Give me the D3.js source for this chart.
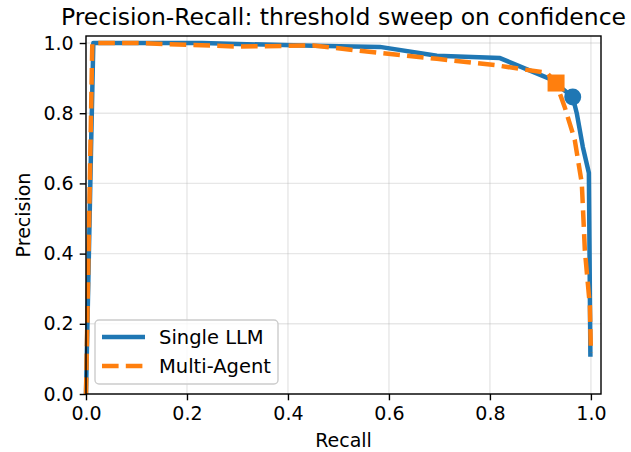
<!DOCTYPE html>
<html lang="en">
<head>
    <meta charset="UTF-8">
    <title>Precision-Recall</title>
    <script src="https://cdn.jsdelivr.net/npm/d3@7"></script>
    <style>
        body { margin: 0; background: #fff; }
        svg { display: block; font-family: "DejaVu Sans", sans-serif; }
    </style>
</head>
<body>
    <script>
        const width = 631;
        const height = 452;

        const marginTop = 36;
        const marginRight = 30;
        const marginBottom = 58;
        const marginLeft = 86;

        // values
        const singleRecall    = [0, 0.010, 0.0145, 0.23, 0.45, 0.582, 0.695, 0.82, 0.92, 0.964, 0.972, 0.984, 0.996, 0.999];
        const singlePrecision = [0, 0.700, 1.000, 1.000, 0.992, 0.989, 0.964, 0.957, 0.897, 0.846, 0.800, 0.704, 0.630, 0.106];

        const multiRecall    = [0, 0.0125, 0.10, 0.30, 0.45, 0.58, 0.695, 0.81, 0.913, 0.931, 0.948, 0.968, 0.982, 0.988, 0.998, 1.0];
        const multiPrecision = [0, 1.000, 1.000, 0.990, 0.993, 0.972, 0.955, 0.937, 0.915, 0.886, 0.818, 0.724, 0.600, 0.410, 0.250, 0.117];

        const opPoints = [
            { name: "Single LLM", recall: 0.964, precision: 0.846 },
            { name: "Multi-Agent", recall: 0.931, precision: 0.886 }
        ];

        const ticks = [0, 0.2, 0.4, 0.6, 0.8, 1.0];
        const blue = "#1f77b4";
        const orange = "#ff7f0e";

        const x = d3.scaleLinear()
            .domain([0, 1.02])
            .range([marginLeft, width - marginRight]);

        const y = d3.scaleLinear()
            .domain([0, 1.02])
            .range([height - marginBottom, marginTop]);

        const svg = d3.select("body").append("svg")
            .attr("width", width)
            .attr("height", height)
            .attr("viewBox", [0, 0, width, height]);

        // grid
        svg.append("g")
            .selectAll("line.gx")
            .data(ticks)
            .join("line")
            .attr("x1", d => x(d)).attr("x2", d => x(d))
            .attr("y1", marginTop).attr("y2", height - marginBottom)
            .attr("stroke", "#b0b0b0").attr("stroke-opacity", 0.3).attr("stroke-width", 1.4);

        svg.append("g")
            .selectAll("line.gy")
            .data(ticks)
            .join("line")
            .attr("y1", d => y(d)).attr("y2", d => y(d))
            .attr("x1", marginLeft).attr("x2", width - marginRight)
            .attr("stroke", "#b0b0b0").attr("stroke-opacity", 0.3).attr("stroke-width", 1.4);

        const line = d3.line()
            .x(d => x(d[0]))
            .y(d => y(d[1]));

        const singleData = singleRecall.map((r, i) => [r, singlePrecision[i]]);
        const multiData = multiRecall.map((r, i) => [r, multiPrecision[i]]);

        svg.append("path")
            .datum(singleData)
            .attr("fill", "none")
            .attr("stroke", blue)
            .attr("stroke-width", 4.5)
            .attr("stroke-linejoin", "round")
            .attr("d", line);

        svg.append("path")
            .datum(multiData)
            .attr("fill", "none")
            .attr("stroke", orange)
            .attr("stroke-width", 4.5)
            .attr("stroke-dasharray", "16.6,7.2")
            .attr("d", line);

        // operating points
        svg.append("circle")
            .attr("cx", x(opPoints[0].recall))
            .attr("cy", y(opPoints[0].precision))
            .attr("r", 8.5)
            .attr("fill", blue);

        svg.append("rect")
            .attr("x", x(opPoints[1].recall) - 8.5)
            .attr("y", y(opPoints[1].precision) - 8.5)
            .attr("width", 17)
            .attr("height", 17)
            .attr("fill", orange);

        // axes
        const xAxis = svg.append("g")
            .attr("transform", `translate(0, ${height - marginBottom})`)
            .call(d3.axisBottom(x).tickValues(ticks).tickFormat(d3.format(".1f")).tickSize(6.3).tickPadding(6));

        const yAxis = svg.append("g")
            .attr("transform", `translate(${marginLeft}, 0)`)
            .call(d3.axisLeft(y).tickValues(ticks).tickFormat(d3.format(".1f")).tickSize(6.3).tickPadding(6));

        [xAxis, yAxis].forEach(g => {
            g.select(".domain").remove();
            g.selectAll(".tick line").attr("stroke", "#000").attr("stroke-width", 1.4);
            g.selectAll(".tick text").attr("fill", "#000").style("font-size", "19px")
                .style("font-family", "DejaVu Sans, sans-serif");
        });

        // frame
        svg.append("rect")
            .attr("x", marginLeft)
            .attr("y", marginTop)
            .attr("width", width - marginRight - marginLeft)
            .attr("height", height - marginBottom - marginTop)
            .attr("fill", "none")
            .attr("stroke", "#000")
            .attr("stroke-width", 1.4);

        // labels
        svg.append("text")
            .attr("x", (marginLeft + width - marginRight) / 2)
            .attr("y", 25)
            .attr("text-anchor", "middle")
            .style("font-size", "23.5px")
            .text("Precision-Recall: threshold sweep on confidence");

        svg.append("text")
            .attr("x", (marginLeft + width - marginRight) / 2)
            .attr("y", 447)
            .attr("text-anchor", "middle")
            .style("font-size", "19px")
            .text("Recall");

        svg.append("text")
            .attr("transform", `translate(30, ${(marginTop + height - marginBottom) / 2}) rotate(-90)`)
            .attr("text-anchor", "middle")
            .style("font-size", "19px")
            .text("Precision");

        // legend
        const legend = svg.append("g");
        legend.append("rect")
            .attr("x", 95).attr("y", 320)
            .attr("width", 183).attr("height", 64)
            .attr("rx", 4)
            .attr("fill", "#fff").attr("fill-opacity", 0.8)
            .attr("stroke", "#ccc").attr("stroke-width", 1.4);

        const legendItems = [
            { label: "Single LLM", color: blue, dash: null },
            { label: "Multi-Agent", color: orange, dash: "16.6,7.2" }
        ];

        legendItems.forEach((d, i) => {
            const cy = 337 + i * 29;
            legend.append("line")
                .attr("x1", 102).attr("x2", 145)
                .attr("y1", cy).attr("y2", cy)
                .attr("stroke", d.color)
                .attr("stroke-width", 4.5)
                .attr("stroke-dasharray", d.dash);
            legend.append("text")
                .attr("x", 159).attr("y", cy)
                .attr("dy", "0.35em")
                .style("font-size", "19.5px")
                .text(d.label);
        });
    </script>
</body>
</html>
